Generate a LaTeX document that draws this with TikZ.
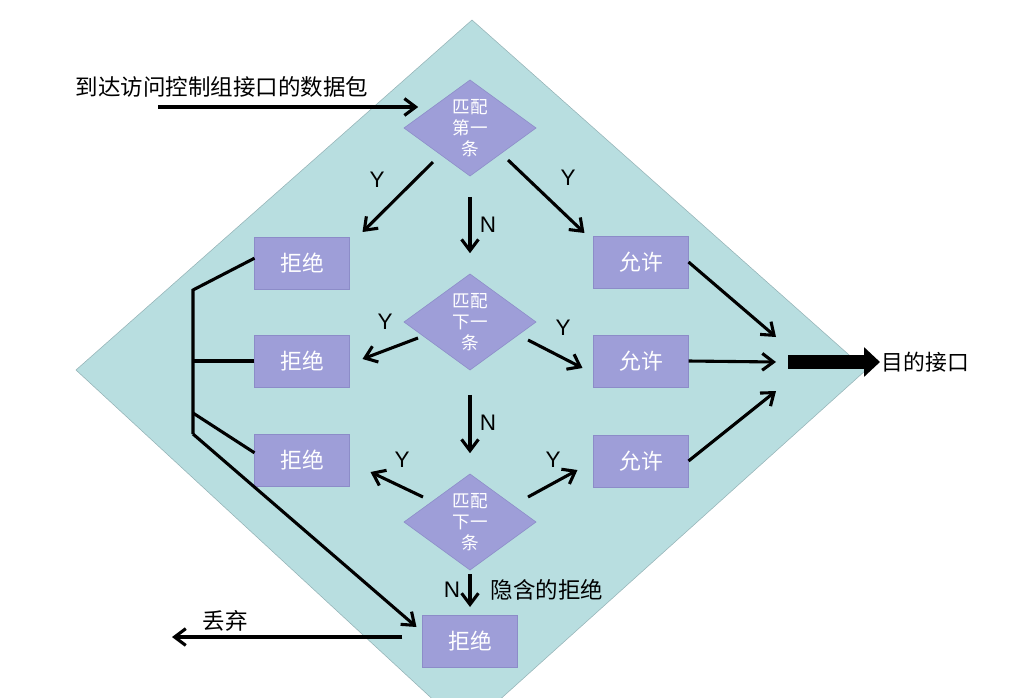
\documentclass[tikz,border=0pt]{standalone}
\usepackage{fontspec}
\setmainfont{Liberation Sans}
\newfontfamily\cjk{Noto Sans CJK SC}
\usepackage{tikz}
\usetikzlibrary{shapes.geometric,arrows.meta,positioning}
\definecolor{aclbg}{RGB}{184,222,224}
\definecolor{aclrim}{RGB}{150,180,184}
\definecolor{lavender}{RGB}{158,158,216}
\definecolor{lavrim}{RGB}{140,140,200}
\tikzstyle{verdict} = [rectangle, minimum width=2.375cm, minimum height=1.3cm, inner sep=0pt, outer sep=0pt, draw=lavrim, fill=lavender, text=white, font=\cjk\fontsize{15.5}{18}\selectfont]
\tikzstyle{match} = [diamond, aspect=1.375, minimum width=3.3cm, minimum height=2.4cm, inner sep=0pt, outer sep=0pt, draw=lavrim, fill=lavender, text=white, align=center, font=\cjk\fontsize{12.5}{15}\selectfont]
\tikzstyle{arrow} = [line width=2.2pt, -{Straight Barb[length=0.28cm,width=0.42cm]}]
\tikzstyle{wire} = [line width=2.2pt]
\tikzstyle{yn} = [font=\fontsize{16}{19}\selectfont]
\tikzstyle{note} = [inner sep=1pt, font=\cjk\fontsize{16}{19}\selectfont]

\begin{document}
\begin{tikzpicture}[x=0.025cm,y=-0.025cm]
\useasboundingbox (0,0) rectangle (1010,697);
% big diamond behind everything
\filldraw[fill=aclbg, draw=aclrim] (472,20) -- (866,370) -- (466,730) -- (76,370) -- cycle;

\node (match1) [match] at (470,128) {匹配\\第一\\条};
\node (match2) [match] at (470,322) {匹配\\下一\\条};
\node (match3) [match] at (470,522) {匹配\\下一\\条};
\node (deny1) [verdict] at (302,263) {拒绝};
\node (deny2) [verdict] at (302,361) {拒绝};
\node (deny3) [verdict] at (302,460) {拒绝};
\node (deny4) [verdict] at (470,641) {拒绝};
\node (allow1) [verdict] at (641,262) {允许};
\node (allow2) [verdict] at (641,361) {允许};
\node (allow3) [verdict] at (641,461) {允许};

\node (arrive) [note, anchor=west] at (74,87) {到达访问控制组接口的数据包};
\node (implicit) [note, anchor=west] at (489,590) {隐含的拒绝};
\node (drop) [note] at (225,621) {丢弃};
\node (dest) [note, anchor=west, font=\cjk\fontsize{15.5}{18}\selectfont] at (880,362) {目的接口};

\node (y1) [yn] at (377,180) {Y};
\node (y2) [yn] at (568,178) {Y};
\node (n1) [yn] at (488,225) {N};
\node (y3) [yn] at (385,322) {Y};
\node (y4) [yn] at (563,328) {Y};
\node (n2) [yn] at (488,423) {N};
\node (y5) [yn] at (402,460) {Y};
\node (y6) [yn] at (553,460) {Y};
\node (n3) [yn] at (452,590) {N};

\coordinate (entry) at (158,107);
\coordinate (spine) at (193,290);
\coordinate (fork) at (193,413);
\coordinate (spineend) at (193,434);
\coordinate (discard) at (172,637);
\coordinate (sink) at (788,362);

\draw[arrow, shorten >=0.47cm] (entry) -- (entry -| match1.north west);

% first rule
\draw[arrow] ([shift={(-4,10)}]match1.south west) -- ([shift={(13,-5)}]deny1.north east);
\draw[arrow] ([shift={(5,8)}]match1.south east) -- ([shift={(-9,-3)}]allow1.north west);
\draw[arrow] ([yshift=-0.52cm]match1.south) -- ([yshift=0.52cm]match2.north);

% next rule
\draw[arrow] ([shift={(14,16)}]match2.west) -- ([shift={(13,-2)}]deny2.east);
\draw[arrow] ([shift={(-8,18)}]match2.east) -- ([shift={(-11,7)}]allow2.west);
\draw[arrow] ([yshift=-0.62cm]match2.south) -- ([yshift=0.52cm]match3.north);

% last rule
\draw[arrow] ([shift={(-14,-1)}]match3.north west) -- ([shift={(21,12)}]deny3.east);
\draw[arrow] ([shift={(25,-1)}]match3.north east) -- ([shift={(-16,9)}]allow3.west);
\draw[arrow] ([yshift=-0.1cm]match3.south) -- ([yshift=0.2cm]deny4.north);

% denied packets
\draw[wire] ([yshift=0.12cm]deny1.west) -- (spine) -- (spineend);
\draw[wire] (deny2.west) -- (deny2.west -| spine);
\draw[wire] (fork) -- ([yshift=0.18cm]deny3.west);
\draw[arrow] (spineend) -- ([shift={(-6,12)}]deny4.north west);
\draw[arrow] ([shift={(-20,-4)}]deny4.west) -- (discard);

% permitted packets
\draw[arrow] (allow1.east) -- ([shift={(-12,-25)}]sink);
\draw[arrow] (allow2.east) -- ([xshift=-0.3cm]sink);
\draw[arrow] (allow3.east) -- ([shift={(-12,29)}]sink);
\draw[line width=0.33cm, -{Triangle[length=0.4cm,width=0.72cm]}] (sink) -- (dest.west);
\end{tikzpicture}
\end{document}
